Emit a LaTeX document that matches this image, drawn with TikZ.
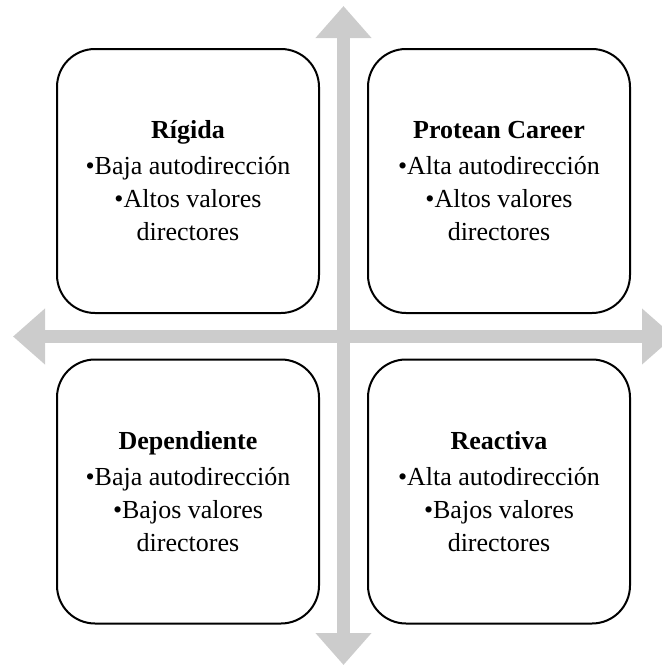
\documentclass[tikz,border=0pt]{standalone}
\usepackage{fontspec}
\setmainfont{Liberation Serif}
\usetikzlibrary{arrows.meta}

\definecolor{axisgray}{RGB}{204,204,204}

\tikzset{
	quad/.style={draw, line width=2pt, rounded corners=38pt, minimum width=262pt, minimum height=264pt, align=center, inner sep=0pt, font=\fontsize{26}{33}\selectfont},
	axis/.style={draw=axisgray, line width=13.5pt, {Triangle[width=54pt,length=32pt]}-{Triangle[width=54pt,length=32pt]}}
}

\begin{document}
\begin{tikzpicture}[x=1pt,y=-1pt]

			\clip (0,0) rectangle (662,665);

			\coordinate (top) at (343.5,6);
			\coordinate (bottom) at (343.5,665);
			\coordinate (left) at (13,336.5);
			\coordinate (right) at (674,336.5);

			\draw [axis] (left) -- (right);
			\draw [axis] (top) -- (bottom);

			\node [quad] (rigida) at (188,181) {\textbf{Rígida}\\[3pt]\textbullet Baja autodirección\\\textbullet Altos valores\\directores};
			\node [quad] (protean) at (499,181) {\textbf{Protean Career}\\[3pt]\textbullet Alta autodirección\\\textbullet Altos valores\\directores};
			\node [quad] (dependiente) at (188,491.5) {\textbf{Dependiente}\\[3pt]\textbullet Baja autodirección\\\textbullet Bajos valores\\directores};
			\node [quad] (reactiva) at (499,491.5) {\textbf{Reactiva}\\[3pt]\textbullet Alta autodirección\\\textbullet Bajos valores\\directores};
		\end{tikzpicture}
\end{document}
